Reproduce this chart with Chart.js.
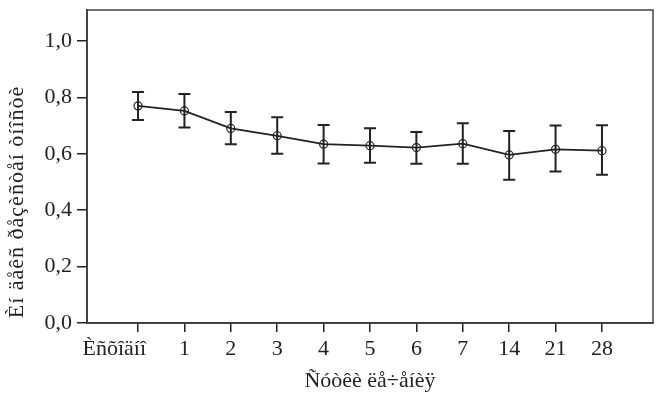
<!DOCTYPE html>
<html>
<head>
<meta charset="utf-8">
<script src="https://cdn.jsdelivr.net/npm/chart.js@4.4.1/dist/chart.umd.min.js"></script>
<style>
  body { margin: 0; background: #fff; }
  canvas { display: block; }
</style>
</head>
<body>
<canvas id="riChart" width="668" height="399"></canvas>
<script>
// Data
const days = ["Èñõîäíî", "1", "2", "3", "4", "5", "6", "7", "14", "21", "28"];
const riMean = [0.770, 0.752, 0.690, 0.664, 0.634, 0.629, 0.622, 0.636, 0.596, 0.616, 0.611];
const riLow = [0.720, 0.693, 0.634, 0.600, 0.566, 0.568, 0.565, 0.565, 0.508, 0.537, 0.526];
const riHigh = [0.819, 0.812, 0.748, 0.730, 0.702, 0.691, 0.677, 0.708, 0.681, 0.700, 0.701];
const yTicks = [0, 0.2, 0.4, 0.6, 0.8, 1.0];

const xTitle = "Ñóòêè ëå÷åíèÿ";
const yTitle = "Èí äåêñ ðåçèñòåí òíîñòè";

const ink = "#222";
const fontFamily = "'Liberation Serif', 'Times New Roman', serif";
const fontSize = 22;

// Error bars, box frame, first tick label and axis titles
const extras = {
  id: "extras",
  beforeDatasetsDraw(chart) {
    const { ctx, scales: { x, y } } = chart;
    ctx.save();
    ctx.strokeStyle = ink;
    ctx.lineWidth = 2;
    riMean.forEach((v, i) => {
      const px = x.getPixelForValue(i);
      const top = y.getPixelForValue(riHigh[i]);
      const bot = y.getPixelForValue(riLow[i]);
      ctx.beginPath();
      ctx.moveTo(px, top);
      ctx.lineTo(px, bot);
      ctx.moveTo(px - 6, top);
      ctx.lineTo(px + 6, top);
      ctx.moveTo(px - 6, bot);
      ctx.lineTo(px + 6, bot);
      ctx.stroke();
    });
    ctx.restore();
  },
  afterDraw(chart) {
    const { ctx, chartArea: a, scales: { x } } = chart;
    ctx.save();
    ctx.strokeStyle = "#444";
    ctx.lineWidth = 1.5;
    ctx.strokeRect(a.left, a.top, a.right - a.left, a.bottom - a.top);

    ctx.fillStyle = ink;
    ctx.font = fontSize + "px " + fontFamily;
    ctx.textBaseline = "middle";
    ctx.textAlign = "right";
    ctx.fillText(days[0], x.getPixelForValue(0) + 8, a.bottom + 26);

    ctx.textAlign = "center";
    ctx.fillText(xTitle, (a.left + a.right) / 2, 381);

    // y title is slightly tracked out
    ctx.letterSpacing = "1px";
    ctx.translate(17, 202);
    ctx.rotate(-Math.PI / 2);
    ctx.fillText(yTitle, 0, 0);
    ctx.restore();
  }
};

new Chart(document.getElementById("riChart"), {
  type: "line",
  data: {
    datasets: [{
      data: riMean.map((v, i) => ({ x: i, y: v })),
      borderColor: ink,
      borderWidth: 1.8,
      pointRadius: 4,
      pointBorderWidth: 1.2,
      pointBorderColor: ink,
      pointBackgroundColor: "rgba(0,0,0,0)",
      tension: 0
    }]
  },
  options: {
    responsive: false,
    animation: false,
    layout: { padding: { left: 0, top: 10, right: 15, bottom: 0 } },
    plugins: { legend: { display: false }, tooltip: { enabled: false } },
    scales: {
      x: {
        type: "linear",
        min: -1.1,
        max: 11.1,
        afterBuildTicks: s => { s.ticks = days.map((d, i) => ({ value: i })); },
        afterFit: s => { s.height = 76; s.paddingLeft = 0; s.paddingRight = 0; },
        grid: { drawOnChartArea: false, drawTicks: true, tickLength: 9, color: ink, lineWidth: 1.5 },
        border: { display: true, color: ink, width: 1.8 },
        ticks: {
          autoSkip: false,
          maxRotation: 0,
          padding: 4,
          color: ink,
          font: { family: fontFamily, size: fontSize },
          callback: v => (v === 0 ? "" : days[v])
        }
      },
      y: {
        min: 0,
        max: 1.11,
        afterBuildTicks: s => { s.ticks = yTicks.map(v => ({ value: v })); },
        afterFit: s => { s.width = 87; s.paddingTop = 0; s.paddingBottom = 0; },
        grid: { drawOnChartArea: false, drawTicks: true, tickLength: 10, color: ink, lineWidth: 1.5 },
        border: { display: true, color: ink, width: 1.8 },
        ticks: {
          padding: 5,
          color: ink,
          font: { family: fontFamily, size: fontSize },
          callback: v => v.toFixed(1).replace(".", ",")
        }
      }
    }
  },
  plugins: [extras]
});
</script>
</body>
</html>
